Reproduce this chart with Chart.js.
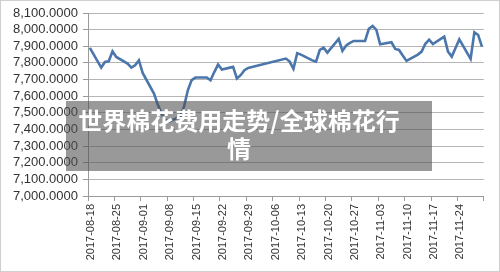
<!DOCTYPE html>
<html>
<head>
<meta charset="utf-8">
<script src="https://cdn.jsdelivr.net/npm/chart.js@4.4.1/dist/chart.umd.min.js"></script>
<style>
  html, body { margin: 0; padding: 0; background: #fff; }
  #wrap { position: relative; width: 500px; height: 272px; }
  #myChart { position: absolute; left: 0; top: 0; }
  #frame { position: absolute; left: 0; top: 0; width: 500px; height: 272px; box-sizing: border-box; border: 1px solid #cfcfcf; pointer-events: none; }
  #caption {
    position: absolute; left: 66px; top: 101px; width: 334px; height: 65px;
    padding: 5px 26px 0 6px; box-sizing: content-box;
    background: rgba(80, 80, 80, 0.58);
    color: #fff; text-align: center;
    font-family: "Noto Sans CJK SC", sans-serif; font-weight: 700;
    font-size: 24px; line-height: 28px;
  }
</style>
</head>
<body>
<div id="wrap">
  <canvas id="myChart" width="500" height="272"></canvas>
  <div id="caption">世界棉花费用走势/全球棉花行情</div>
  <div id="frame"></div>
</div>
<script>
// trading days (Excel date axis, so gaps for weekends / National Day)
const dates = [
  '2017-08-18',
  '2017-08-21','2017-08-22','2017-08-23','2017-08-24','2017-08-25',
  '2017-08-28','2017-08-29','2017-08-30','2017-08-31','2017-09-01',
  '2017-09-04','2017-09-05','2017-09-06','2017-09-07','2017-09-08',
  '2017-09-11','2017-09-12','2017-09-13','2017-09-14','2017-09-15',
  '2017-09-18','2017-09-19','2017-09-20','2017-09-21','2017-09-22',
  '2017-09-25','2017-09-26','2017-09-27','2017-09-28','2017-09-29','2017-09-30',
  '2017-10-09','2017-10-10','2017-10-11','2017-10-12','2017-10-13',
  '2017-10-16','2017-10-17','2017-10-18','2017-10-19','2017-10-20',
  '2017-10-23','2017-10-24','2017-10-25','2017-10-26','2017-10-27',
  '2017-10-30','2017-10-31','2017-11-01','2017-11-02','2017-11-03',
  '2017-11-06','2017-11-07','2017-11-08','2017-11-09','2017-11-10',
  '2017-11-13','2017-11-14','2017-11-15','2017-11-16','2017-11-17',
  '2017-11-20','2017-11-21','2017-11-22','2017-11-23','2017-11-24',
  '2017-11-27','2017-11-28','2017-11-29','2017-11-30'
];

const values = [
  7890,
  7772, 7806, 7810, 7870, 7836,
  7796, 7772, 7786, 7816, 7740,
  7616, 7550, 7497, 7458, 7447,
  7478, 7540, 7637, 7697, 7712,
  7712, 7696, 7745, 7790, 7760,
  7776, 7706, 7726, 7756, 7770, 7775,
  7826, 7808, 7764, 7858, 7850,
  7815, 7808, 7878, 7892, 7862,
  7944, 7872, 7905, 7920, 7932,
  7932, 8005, 8022, 7998, 7912,
  7924, 7884, 7878, 7844, 7812,
  7850, 7868, 7915, 7940, 7913,
  7958, 7868, 7838, 7890, 7941,
  7824, 7984, 7968, 7898
];

const tickLabels = [
  '2017-08-18','2017-08-25','2017-09-01','2017-09-08','2017-09-15',
  '2017-09-22','2017-09-29','2017-10-06','2017-10-13','2017-10-20',
  '2017-10-27','2017-11-03','2017-11-10','2017-11-17','2017-11-24'
];
const axisEnd = '2017-12-01';

const yMin = 7000;
const yMax = 8100;

const start = Date.UTC(2017, 7, 18);
function dayOf(s){
  const p = s.split('-');
  return Math.round((Date.UTC(+p[0], +p[1] - 1, +p[2]) - start) / 86400000);
}
function dateOf(d){
  return new Date(start + d * 86400000).toISOString().slice(0, 10);
}

const points = dates.map((d, i) => ({ x: dayOf(d), y: values[i] }));
const tickValues = tickLabels.map(t => dayOf(t) - 0.5).concat([dayOf(axisEnd) - 0.5]);

const frame = {
  id: 'frame',
  beforeDraw(chart){
    const c = chart.ctx;
    c.save();
    c.fillStyle = '#fff';
    c.fillRect(0, 0, chart.width, chart.height);
    c.restore();
  }
};

new Chart(document.getElementById('myChart'), {
  type: 'line',
  data: {
    datasets: [{
      data: points,
      borderColor: '#4a76ab',
      borderWidth: 2.6,
      pointRadius: 0,
      tension: 0,
      fill: false
    }]
  },
  options: {
    responsive: false,
    animation: false,
    parsing: false,
    layout: { padding: { left: 0, top: 13, right: 14, bottom: 0 } },
    plugins: { legend: { display: false }, tooltip: { enabled: false } },
    scales: {
      x: {
        type: 'linear',
        min: tickValues[0],
        max: tickValues[tickValues.length - 1],
        afterBuildTicks: scale => { scale.ticks = tickValues.map(v => ({ value: v })); },
        afterFit: scale => { scale.height = 76; },
        grid: { drawOnChartArea: false, drawTicks: true, tickLength: 5, color: '#9a9a9a' },
        border: { color: '#9a9a9a', width: 1 },
        ticks: {
          autoSkip: false,
          minRotation: 90,
          maxRotation: 90,
          padding: 3,
          labelOffset: 3,
          color: '#333',
          font: { family: 'Liberation Sans', size: 11 },
          callback: function(value, index, ticks){
            if (index === ticks.length - 1) return '';
            return dateOf(value + 0.5);
          }
        }
      },
      y: {
        min: yMin,
        max: yMax,
        afterFit: scale => { scale.width = 88; },
        grid: { color: '#b5b5b5', tickLength: 5, tickColor: '#9a9a9a' },
        border: { color: '#9a9a9a', width: 1 },
        ticks: {
          stepSize: 100,
          autoSkip: false,
          padding: 5,
          color: '#333',
          font: { family: 'Liberation Sans', size: 13 },
          callback: v => v.toLocaleString('en-US', { minimumFractionDigits: 4, maximumFractionDigits: 4 })
        }
      }
    }
  },
  plugins: [frame]
});
</script>
</body>
</html>
